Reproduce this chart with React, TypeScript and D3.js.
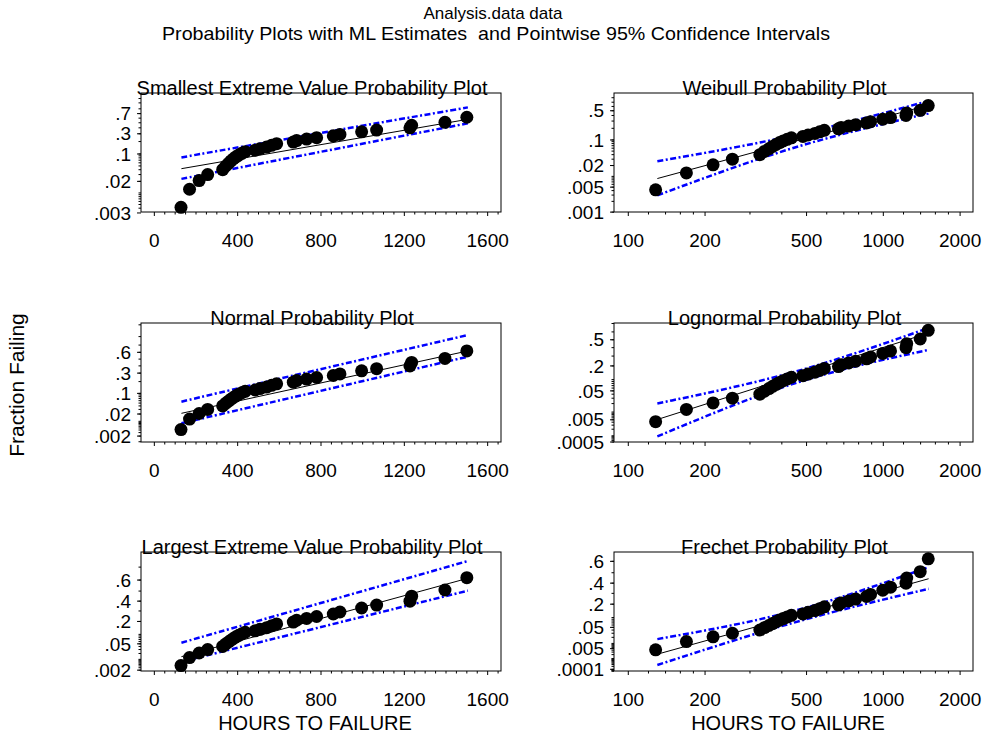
import React from 'react';
import * as d3 from 'd3';

// ---------- data ----------
const hours = [128, 169, 215, 256, 328, 342, 356, 368, 380, 392, 405, 420, 436, 484, 507, 539, 563, 587, 667, 683, 731, 779, 859, 891, 995, 1067, 1227, 1235, 1395, 1500];
const fractionFailing = [0.0042, 0.0125, 0.021, 0.030, 0.040, 0.049, 0.058, 0.067, 0.076, 0.085, 0.094, 0.104, 0.114, 0.124, 0.135, 0.148, 0.163, 0.178, 0.194, 0.211, 0.228, 0.246, 0.27, 0.29, 0.33, 0.36, 0.40, 0.45, 0.51, 0.62];

const fitTimes = [130, 1505];
const bandTimes = [130, 450, 1505];

const sevFit = [0.0425, 0.575];
const sevUpper = [0.082, 0.160, 0.827];
const sevLower = [0.0232, 0.0501, 0.489];
const weibullFit = [0.0087, 0.632];
const weibullUpper = [0.0263, 0.134, 0.73];
const weibullLower = [0.00295, 0.0627, 0.443];
const normalFit = [0.0213, 0.62];
const normalUpper = [0.0556, 0.157, 0.816];
const normalLower = [0.0082, 0.0345, 0.536];
const lognormalFit = [0.00514, 0.586];
const lognormalUpper = [0.0202, 0.152, 0.648];
const lognormalLower = [0.00094, 0.0806, 0.373];
const levFit = [0.0139, 0.615];
const levUpper = [0.055, 0.18, 0.74];
const levLower = [0.0073, 0.045, 0.504];
const frechetFit = [0.00214, 0.443];
const frechetUpper = [0.0165, 0.147, 0.551];
const frechetLower = [0.00027, 0.073, 0.344];

const sevTicks = ['.003', '.02', '.1', '.3', '.7'];
const weibullTicks = ['.001', '.005', '.02', '.1', '.5'];
const normalTicks = ['.002', '.02', '.1', '.3', '.6'];
const lognormalTicks = ['.0005', '.005', '.05', '.2', '.5'];
const levTicks = ['.002', '.05', '.2', '.4', '.6'];
const frechetTicks = ['.0001', '.005', '.05', '.2', '.4', '.6'];

const linearXTicks = [0, 400, 800, 1200, 1600];
const logXTicks = [100, 200, 500, 1000, 2000];
const logXMinor = [100, 120, 140, 160, 180, 200, 300, 400, 500, 600, 700, 800, 900, 1000, 1200, 1400, 1600, 1800, 2000];

const titles = [
  'Smallest Extreme Value Probability Plot',
  'Weibull Probability Plot',
  'Normal Probability Plot',
  'Lognormal Probability Plot',
  'Largest Extreme Value Probability Plot',
  'Frechet Probability Plot',
];

// ---------- helpers ----------
function qnorm(p: number): number {
  const a = [-3.969683028665376e1, 2.209460984245205e2, -2.759285104469687e2, 1.38357751867269e2, -3.066479806614716e1, 2.506628277459239];
  const b = [-5.447609879822406e1, 1.615858368580409e2, -1.556989798598866e2, 6.680131188771972e1, -1.328068155288572e1];
  const c = [-7.784894002430293e-3, -3.223964580411365e-1, -2.400758277161838, -2.549671010229528, 4.374664141464968, 2.938163982698783];
  const d = [7.784695709041462e-3, 3.224671290700398e-1, 2.445134137142996, 3.754408661907416];
  const pl = 0.02425;
  if (p < pl) {
    const q = Math.sqrt(-2 * Math.log(p));
    return (((((c[0] * q + c[1]) * q + c[2]) * q + c[3]) * q + c[4]) * q + c[5]) / ((((d[0] * q + d[1]) * q + d[2]) * q + d[3]) * q + 1);
  }
  if (p <= 1 - pl) {
    const q = p - 0.5;
    const r = q * q;
    return ((((((a[0] * r + a[1]) * r + a[2]) * r + a[3]) * r + a[4]) * r + a[5]) * q) / (((((b[0] * r + b[1]) * r + b[2]) * r + b[3]) * r + b[4]) * r + 1);
  }
  const q = Math.sqrt(-2 * Math.log(1 - p));
  return -(((((c[0] * q + c[1]) * q + c[2]) * q + c[3]) * q + c[4]) * q + c[5]) / ((((d[0] * q + d[1]) * q + d[2]) * q + d[3]) * q + 1);
}
const sevQ = (p: number) => Math.log(-Math.log(1 - p));
const levQ = (p: number) => -Math.log(-Math.log(p));

const minorProbs: number[] = [];
for (let e = -5; e <= -1; e++) for (let k = 1; k <= 9; k++) minorProbs.push(k * Math.pow(10, e));
minorProbs.push(0.95, 0.99, 0.995, 0.999);

const FONT = '"Liberation Sans", Arial, Helvetica, sans-serif';
const colX = [[141, 501], [614, 973]];
const rowY = [[93, 212], [323, 442], [552, 671]];

type Panel = {
  title: string; col: number; row: number; log: boolean; q: (p: number) => number;
  qDomain: [number, number]; ticks: string[]; fit: number[]; upper: number[]; lower: number[];
};

const panels: Panel[] = [
  { title: titles[0], col: 0, row: 0, log: false, q: sevQ, qDomain: [-5.75, 1.43], ticks: sevTicks, fit: sevFit, upper: sevUpper, lower: sevLower },
  { title: titles[1], col: 1, row: 0, log: true, q: sevQ, qDomain: [-6.9, 0.78], ticks: weibullTicks, fit: weibullFit, upper: weibullUpper, lower: weibullLower },
  { title: titles[2], col: 0, row: 1, log: false, q: qnorm, qDomain: [-3.1, 1.35], ticks: normalTicks, fit: normalFit, upper: normalUpper, lower: normalLower },
  { title: titles[3], col: 1, row: 1, log: true, q: qnorm, qDomain: [-3.29, 0.54], ticks: lognormalTicks, fit: lognormalFit, upper: lognormalUpper, lower: lognormalLower },
  { title: titles[4], col: 0, row: 2, log: false, q: levQ, qDomain: [-1.85, 1.45], ticks: levTicks, fit: levFit, upper: levUpper, lower: levLower },
  { title: titles[5], col: 1, row: 2, log: true, q: levQ, qDomain: [-2.266, 0.922], ticks: frechetTicks, fit: frechetFit, upper: frechetUpper, lower: frechetLower },
];

function PanelView({ pn }: { pn: Panel }) {
  const [x0, x1] = colX[pn.col];
  const [y0, y1] = rowY[pn.row];
  const xs: any = pn.log
    ? d3.scaleLog().domain([87.9, 2247]).range([x0, x1])
    : d3.scaleLinear().domain([-64, 1664]).range([x0, x1]);
  const ys = d3.scaleLinear().domain(pn.qDomain).range([y1, y0]);
  const Y = (p: number) => ys(pn.q(p));

  const band = d3.line<number>().x((_, i) => xs(bandTimes[i])).y((p) => Y(p)).curve(d3.curveNatural);
  const fitLine = d3.line<number>().x((_, i) => xs(fitTimes[i])).y((p) => Y(p));

  const yMinor = minorProbs.filter((p) => {
    const v = ys(pn.q(p));
    return v >= y0 - 0.5 && v <= y1 + 0.5;
  });
  const xMinor = pn.log ? logXMinor : d3.range(0, 1651, 50);
  const xLabels = pn.log ? logXTicks : linearXTicks;
  const cx = (x0 + x1) / 2 - 9;

  return (
    <g>
      {yMinor.map((p, i) => (
        <line key={'ym' + i} x1={x0 - 2.5} x2={x0} y1={Y(p)} y2={Y(p)} stroke="#000" strokeWidth={1} />
      ))}
      {pn.ticks.map((t) => (
        <g key={'yt' + t}>
          <line x1={x0 - 4} x2={x0} y1={Y(+t)} y2={Y(+t)} stroke="#000" strokeWidth={1} />
          <text x={x0 - 10} y={Y(+t)} dy="0.35em" textAnchor="end" fontSize={19} fontFamily={FONT}>{t}</text>
        </g>
      ))}
      {xMinor.map((t, i) => (
        <line key={'xm' + i} x1={xs(t)} x2={xs(t)} y1={y1} y2={y1 + (xLabels.includes(t) ? 4 : 2.5)} stroke="#000" strokeWidth={1} />
      ))}
      {xLabels.map((t) => (
        <text key={'xl' + t} x={xs(t)} y={y1 + 35} textAnchor="middle" fontSize={19} fontFamily={FONT}>{t}</text>
      ))}
      <path d={band(pn.upper) || ''} fill="none" stroke="#0000ff" strokeWidth={2.5} strokeDasharray="6,2.5,2,2.5" />
      <path d={band(pn.lower) || ''} fill="none" stroke="#0000ff" strokeWidth={2.5} strokeDasharray="6,2.5,2,2.5" />
      <path d={fitLine(pn.fit) || ''} fill="none" stroke="#000" strokeWidth={1} />
      {hours.map((t, i) => (
        <circle key={'p' + i} cx={xs(t)} cy={Y(fractionFailing[i])} r={6.5} fill="#000" />
      ))}
      <rect x={x0} y={y0} width={x1 - x0} height={y1 - y0} fill="none" stroke="#000" strokeWidth={1} />
      <text x={cx} y={y0 + 2} textAnchor="middle" fontSize={20} fontFamily={FONT}>{pn.title}</text>
    </g>
  );
}

export default function App() {
  return (
    <svg width={985} height={736} style={{ position: 'absolute', left: 0, top: 0, background: '#fff' }}>
      <rect width={985} height={736} fill="#fff" />
      <text x={493} y={19} textAnchor="middle" fontSize={17} fontFamily={FONT}>Analysis.data data</text>
      <text x={496} y={40} textAnchor="middle" fontSize={18.5} fontFamily={FONT} textLength={668} lengthAdjust="spacingAndGlyphs" style={{ whiteSpace: 'pre' }}>Probability Plots with ML Estimates  and Pointwise 95% Confidence Intervals</text>
      <text transform="translate(24,385) rotate(-90)" textAnchor="middle" fontSize={21} fontFamily={FONT}>Fraction Failing</text>
      {panels.map((pn, i) => <PanelView key={i} pn={pn} />)}
      <text x={315} y={730} textAnchor="middle" fontSize={20} fontFamily={FONT}>HOURS TO FAILURE</text>
      <text x={788} y={730} textAnchor="middle" fontSize={20} fontFamily={FONT}>HOURS TO FAILURE</text>
    </svg>
  );
}
